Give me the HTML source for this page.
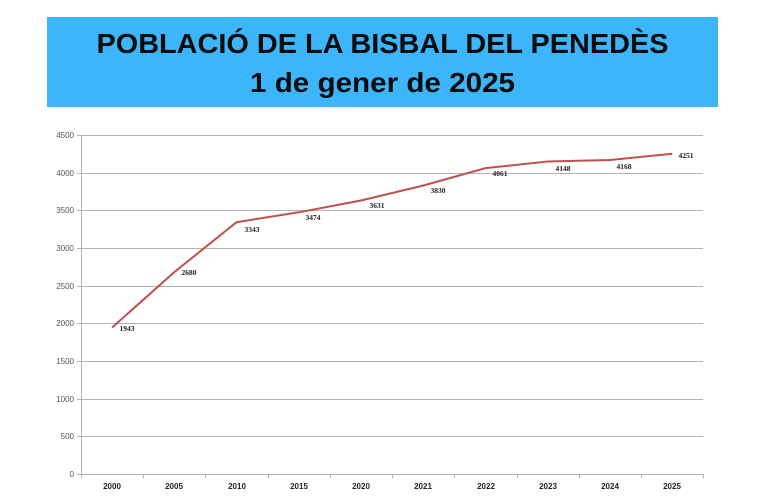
<!DOCTYPE html>
<html><head><meta charset="utf-8"><style>
html,body{margin:0;padding:0;background:#fff;}
svg{display:block;}
</style></head><body>
<svg width="765" height="500" viewBox="0 0 765 500" xmlns="http://www.w3.org/2000/svg">
<rect x="0" y="0" width="765" height="500" fill="#fff"/>
<rect x="47" y="17" width="671" height="90" fill="#3db5fb"/>
<text x="382.5" y="53" text-anchor="middle" font-family="Liberation Sans, sans-serif" font-weight="bold" font-size="28" fill="#0b0b0b" textLength="572" lengthAdjust="spacingAndGlyphs">POBLACIÓ DE LA BISBAL DEL PENEDÈS</text>
<text x="382.5" y="92" text-anchor="middle" font-family="Liberation Sans, sans-serif" font-weight="bold" font-size="28" fill="#0b0b0b" textLength="265" lengthAdjust="spacingAndGlyphs">1 de gener de 2025</text>
<g stroke="#b3b3b3" stroke-width="1">
<line x1="77" y1="135.5" x2="703" y2="135.5"/>
<line x1="77" y1="173.5" x2="703" y2="173.5"/>
<line x1="77" y1="210.5" x2="703" y2="210.5"/>
<line x1="77" y1="248.5" x2="703" y2="248.5"/>
<line x1="77" y1="286.5" x2="703" y2="286.5"/>
<line x1="77" y1="323.5" x2="703" y2="323.5"/>
<line x1="77" y1="361.5" x2="703" y2="361.5"/>
<line x1="77" y1="399.5" x2="703" y2="399.5"/>
<line x1="77" y1="436.5" x2="703" y2="436.5"/>
<line x1="77" y1="474.5" x2="703" y2="474.5"/>
<line x1="81.5" y1="135" x2="81.5" y2="478"/>
<line x1="143.5" y1="474" x2="143.5" y2="478"/>
<line x1="205.5" y1="474" x2="205.5" y2="478"/>
<line x1="268.5" y1="474" x2="268.5" y2="478"/>
<line x1="330.5" y1="474" x2="330.5" y2="478"/>
<line x1="392.5" y1="474" x2="392.5" y2="478"/>
<line x1="454.5" y1="474" x2="454.5" y2="478"/>
<line x1="517.5" y1="474" x2="517.5" y2="478"/>
<line x1="579.5" y1="474" x2="579.5" y2="478"/>
<line x1="641.5" y1="474" x2="641.5" y2="478"/>
<line x1="703.5" y1="474" x2="703.5" y2="478"/>
</g>
<g font-family="Liberation Sans, sans-serif" font-size="8" fill="#555" text-anchor="end">
<text x="74" y="138">4500</text><text x="74" y="176">4000</text><text x="74" y="213">3500</text>
<text x="74" y="251">3000</text><text x="74" y="289">2500</text><text x="74" y="326">2000</text>
<text x="74" y="364">1500</text><text x="74" y="402">1000</text><text x="74" y="439">500</text>
<text x="74" y="477">0</text>
</g>
<g font-family="Liberation Sans, sans-serif" font-size="8" font-weight="bold" fill="#222" text-anchor="middle">
<text x="112" y="489">2000</text><text x="174" y="489">2005</text><text x="237" y="489">2010</text>
<text x="299" y="489">2015</text><text x="361" y="489">2020</text><text x="423" y="489">2021</text>
<text x="486" y="489">2022</text><text x="548" y="489">2023</text><text x="610" y="489">2024</text>
<text x="672" y="489">2025</text>
</g>
<polyline fill="none" stroke="#c0504d" stroke-width="2" stroke-linejoin="round"
points="112,327.6 174.3,272.1 236.5,222.2 298.8,212.3 361,200.5 423.3,185.5 485.5,168.1 547.8,161.5 610,160 672.3,153.8"/>
<g font-family="Liberation Serif, serif" font-size="7.5" font-weight="bold" fill="#222" text-anchor="middle">
<text x="127" y="331">1943</text><text x="189" y="275">2680</text><text x="252" y="232">3343</text>
<text x="313" y="220">3474</text><text x="377" y="208">3631</text><text x="438" y="193">3830</text>
<text x="500" y="176">4061</text><text x="563" y="171">4148</text><text x="624" y="169">4168</text>
<text x="686" y="158">4251</text>
</g>
</svg>
</body></html>
